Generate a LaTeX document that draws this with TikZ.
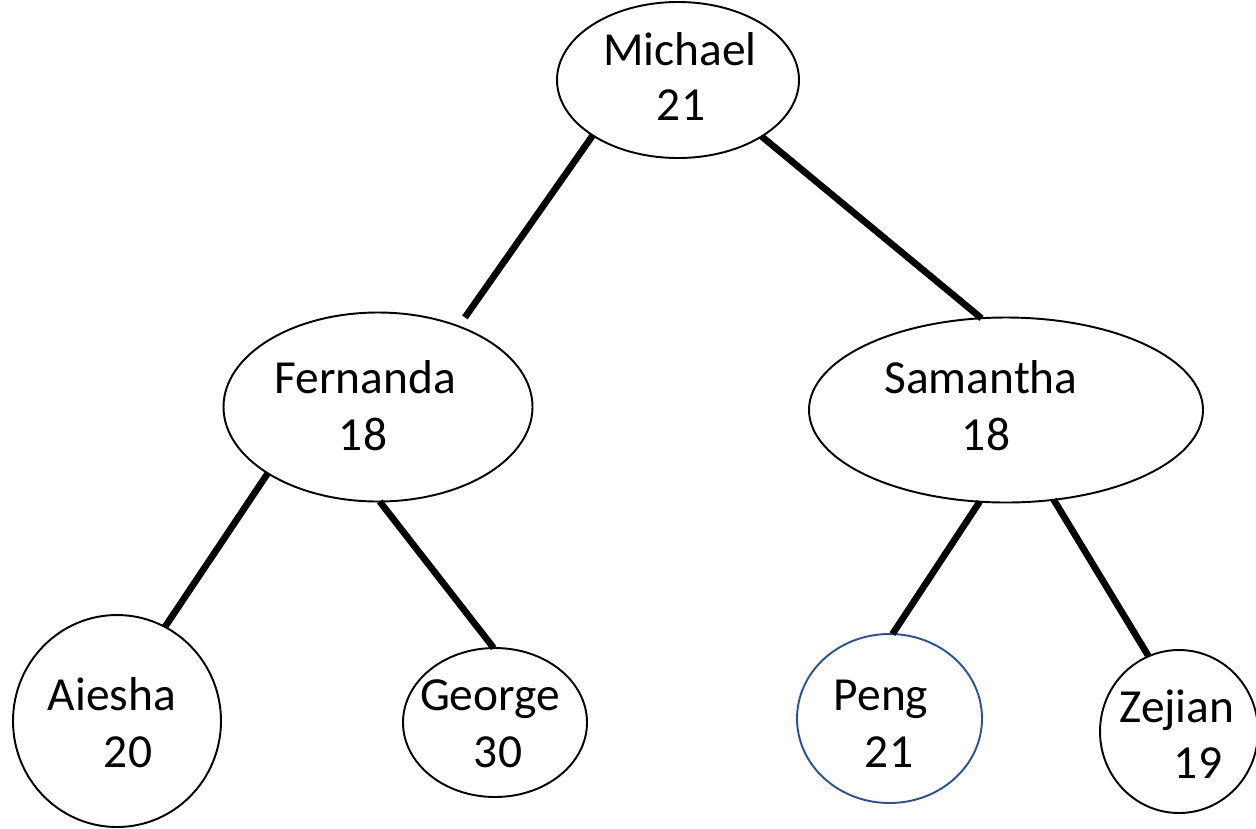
\documentclass[tikz,border=0pt]{standalone}
\usepackage{fontspec}
\setmainfont{Carlito}
\usetikzlibrary{shapes.geometric}
\definecolor{pengblue}{HTML}{2F528F}

\begin{document}
\begin{tikzpicture}[x=1.0cm,y=1.0cm,
	person/.style={draw, ellipse, line width=1.1pt, inner sep=0pt, outer sep=0pt},
	branch/.style={line width=3.8pt, line cap=butt},
	word/.style={anchor=base, inner sep=0pt, font=\fontsize{27}{32}\selectfont}]
	\useasboundingbox (0,0) rectangle (25.12,-16.56);
	% root
	\node [person, minimum width=4.84cm, minimum height=3.12cm] (michael) at (13.56,-1.60) {};
	\node [word] (michael-name) at (13.60,-1.30) {Michael};
	\node [word] (michael-age) at (13.62,-2.40) {21};
	% level 2
	\node [person, minimum width=6.18cm, minimum height=3.78cm] (fernanda) at (7.56,-8.14) {};
	\node [word] (fernanda-name) at (7.30,-7.86) {Fernanda};
	\node [word] (fernanda-age) at (7.26,-9.00) {18};
	\node [person, minimum width=7.88cm, minimum height=3.70cm] (samantha) at (20.12,-8.20) {};
	\node [word] (samantha-name) at (19.62,-7.86) {Samantha};
	\node [word] (samantha-age) at (19.72,-9.00) {18};
	% leaves
	\node [person, minimum width=4.16cm, minimum height=4.24cm] (aiesha) at (2.34,-14.42) {};
	\node [word] (aiesha-name) at (2.24,-14.20) {Aiesha};
	\node [word] (aiesha-age) at (2.56,-15.34) {20};
	\node [person, minimum width=3.68cm, minimum height=2.98cm] (george) at (9.90,-14.45) {};
	\node [word] (george-name) at (9.80,-14.20) {George};
	\node [word] (george-age) at (9.96,-15.34) {30};
	\node [person, draw=pengblue, minimum width=3.70cm, minimum height=3.38cm] (peng) at (17.79,-14.37) {};
	\node [word] (peng-name) at (17.62,-14.20) {Peng};
	\node [word] (peng-age) at (17.78,-15.34) {21};
	\node [person, minimum width=3.16cm, minimum height=3.26cm] (zejian) at (23.58,-14.63) {};
	\node [word] (zejian-name) at (23.54,-14.44) {Zejian};
	\node [word] (zejian-age) at (23.96,-15.56) {19};

	\draw [branch, shorten >=0.22cm] (michael.213.5) -- (fernanda.45.3);
	\draw [branch] (michael.326.8) -- (samantha.105.6);
	\draw [branch] (fernanda.211) -- (aiesha.63.7);
	\draw [branch] (fernanda.271.2) -- (george.91.5);
	\draw [branch] (samantha.254.2) -- (peng.88.3);
	\draw [branch] (samantha.298) -- (zejian.112.2);

\end{tikzpicture}
\end{document}
